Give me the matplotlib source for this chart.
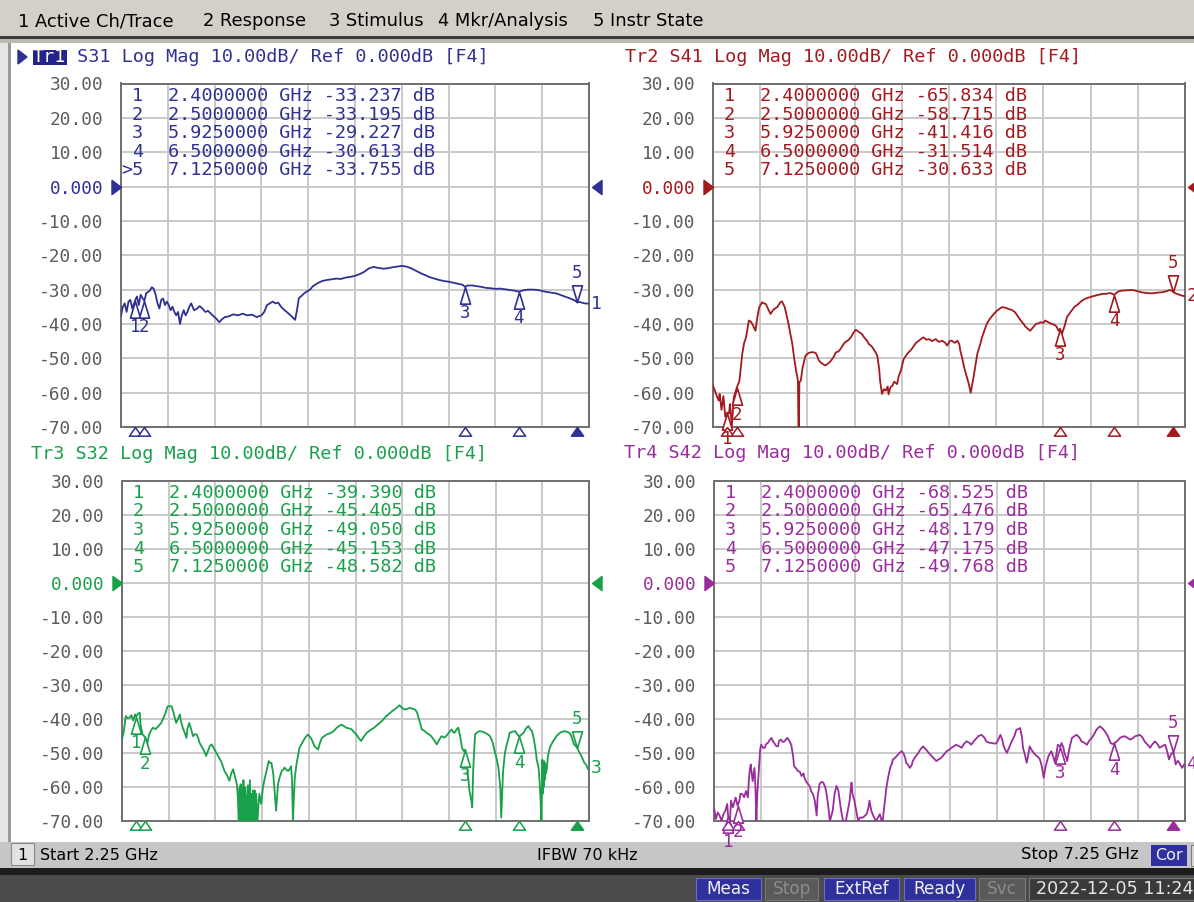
import matplotlib
matplotlib.use("Agg")
import matplotlib.pyplot as plt
from matplotlib.path import Path
from matplotlib.patches import Rectangle
from matplotlib.transforms import ScaledTranslation

W, H = 1194, 902
MONO = "DejaVu Sans Mono"
SANS = "DejaVu Sans"

# ---------------- data ----------------
f_start, f_stop = 2.25, 7.25
db_top, db_bot = 30, -70
marker_f = [2.4, 2.5, 5.925, 6.5, 7.125]

s31_f = [2.25, 2.27, 2.29, 2.31, 2.33, 2.35, 2.37, 2.39, 2.40, 2.42, 2.44, 2.46, 2.48, 2.50, 2.52,
         2.54, 2.56, 2.58, 2.60, 2.62, 2.64, 2.66, 2.68, 2.70, 2.72, 2.74, 2.76, 2.78, 2.80, 2.82,
         2.84, 2.86, 2.88, 2.90, 2.92, 2.94, 2.96, 2.98, 3.00, 3.03, 3.06, 3.09, 3.12, 3.15, 3.18,
         3.21, 3.24, 3.27, 3.30, 3.33, 3.36, 3.40, 3.45, 3.50, 3.55, 3.60, 3.65, 3.70, 3.75, 3.78,
         3.81, 3.84, 3.87, 3.90, 3.93, 3.96, 3.99, 4.02, 4.05, 4.08, 4.11, 4.13, 4.15, 4.18, 4.21,
         4.24, 4.27, 4.30, 4.33, 4.36, 4.40, 4.45, 4.50, 4.55, 4.60, 4.65, 4.70, 4.75, 4.80, 4.85,
         4.90, 4.95, 5.00, 5.05, 5.10, 5.15, 5.20, 5.25, 5.30, 5.35, 5.40, 5.45, 5.50, 5.55, 5.60,
         5.65, 5.70, 5.75, 5.80, 5.85, 5.90, 5.925, 5.95, 6.00, 6.05, 6.10, 6.15, 6.20, 6.25, 6.30,
         6.35, 6.40, 6.45, 6.50, 6.55, 6.60, 6.65, 6.70, 6.75, 6.80, 6.85, 6.90, 6.95, 7.00, 7.05,
         7.10, 7.125, 7.15, 7.20, 7.25]
s31_db = [-37.5, -35, -34, -36.5, -33.5, -33, -35.5, -34, -33.2, -32, -34.5, -31.5, -32.5, -33.2, -31,
          -30.7, -30.2, -29.3, -29.8, -31.5, -34, -35.5, -33, -32.6, -34.5, -33.5, -34.5, -36, -35, -36.5,
          -37.5, -36.5, -40, -37.5, -36, -37.5, -36.5, -35, -34, -36, -35.6, -34.8, -35.5, -36.5, -36.2,
          -37, -37.8, -38.5, -39.5, -38.6, -38, -37.8, -37.2, -37.5, -37, -37.5, -37.3, -38, -37.5, -36.5,
          -34.5, -34, -33.5, -34, -33.8, -35, -35.8, -36.5, -37.2, -38, -38.8, -36, -32.5, -31.8, -31,
          -30.5, -30, -29, -28.5, -28, -27.5, -27.2, -27, -26.8, -26.9, -26.5, -26.3, -26, -25.5, -24.8,
          -23.8, -23.4, -23.7, -23.9, -23.8, -23.5, -23.3, -23.1, -23.3, -23.8, -24.5, -25.2, -25.8, -26.4, -26.8,
          -27.2, -27.5, -27.7, -28, -28.3, -28.6, -29.2, -28.8, -28.8, -29, -29.2, -29.5, -29.6, -29.8, -29.7,
          -29.9, -30.1, -30.3, -30.6, -30.2, -30, -30, -30.1, -30.4, -30.7, -30.9, -31.1, -31.6, -32.1, -32.6,
          -33.2, -33.75, -33.6, -34, -34.1]
s31_mk = [-33.237, -33.195, -29.227, -30.613, -33.755]

s41_f = [2.25, 2.27, 2.29, 2.31, 2.32, 2.34, 2.36, 2.38, 2.40, 2.42, 2.43, 2.45, 2.47, 2.50, 2.53,
         2.56, 2.58, 2.60, 2.63, 2.65, 2.67, 2.70, 2.72, 2.74, 2.77, 2.79, 2.81, 2.84, 2.86, 2.88,
         2.90, 2.93, 2.96, 2.98, 3.01, 3.03, 3.05, 3.07, 3.09, 3.11, 3.13, 3.15, 3.155, 3.16, 3.165,
         3.18, 3.20, 3.23, 3.26, 3.28, 3.31, 3.34, 3.37, 3.39, 3.42, 3.44, 3.47, 3.50, 3.53, 3.55,
         3.58, 3.60, 3.63, 3.65, 3.68, 3.71, 3.74, 3.76, 3.78, 3.80, 3.83, 3.85, 3.88, 3.90, 3.93,
         3.95, 3.97, 3.99, 4.01, 4.02, 4.04, 4.06, 4.08, 4.10, 4.11, 4.13, 4.15, 4.17, 4.20, 4.22,
         4.24, 4.27, 4.30, 4.32, 4.35, 4.38, 4.40, 4.43, 4.46, 4.48, 4.51, 4.54, 4.57, 4.61, 4.64,
         4.68, 4.71, 4.73, 4.76, 4.78, 4.81, 4.84, 4.86, 4.87, 4.89, 4.91, 4.94, 4.96, 4.98, 5.00,
         5.01, 5.03, 5.05, 5.08, 5.10, 5.13, 5.15, 5.18, 5.21, 5.24, 5.26, 5.29, 5.31, 5.35, 5.38,
         5.42, 5.45, 5.48, 5.51, 5.54, 5.56, 5.59, 5.61, 5.64, 5.67, 5.70, 5.72, 5.75, 5.77, 5.80,
         5.84, 5.87, 5.89, 5.91, 5.925, 5.94, 5.97, 6.00, 6.03, 6.05, 6.08, 6.12, 6.15, 6.19, 6.23,
         6.27, 6.32, 6.37, 6.42, 6.46, 6.50, 6.54, 6.58, 6.63, 6.69, 6.74, 6.79, 6.85, 6.90, 6.95,
         7.00, 7.05, 7.09, 7.125, 7.15, 7.20, 7.25]
s41_db = [-58, -59.4, -61, -62.3, -60.4, -65, -61, -67, -65.8, -66, -63.3, -69.6, -61.4, -58.7, -56.5,
          -48.7, -45.5, -43.9, -39, -39.3, -40.2, -42, -38, -35.1, -33.7, -34, -34.2, -36, -37.1, -36.2,
          -35.6, -35.1, -33.8, -33.4, -35.1, -37.5, -40, -43, -45.8, -50, -53.6, -56.5, -70, -70, -57,
          -56.5, -52.6, -49.2, -48.5, -48.3, -48.2, -48.5, -50.5, -51.2, -51.8, -52.1, -51.5, -50.7, -49.5, -48.3,
          -48, -47.3, -46, -45.3, -44.8, -43.9, -42.5, -41.7, -42, -42.4, -43, -43.9, -44.8, -45.8, -46.5,
          -47.3, -48.2, -49.2, -53, -56.5, -60.4, -59, -59.4, -58.2, -60.5, -58.4, -58, -56.8, -57.5, -55,
          -53.6, -50.2, -49, -48.3, -47.5, -46.3, -45.5, -44.9, -44.2, -43.9, -44.6, -44.4, -45, -44.4, -45.2,
          -44.9, -45.5, -46.3, -44.9, -44.9, -45.5, -44.9, -46, -47.8, -50, -52.6, -55.5, -57.5, -60, -57,
          -55.5, -52, -48.7, -46, -43.9, -41.5, -40, -38.6, -37.6, -36.6, -36.1, -35.5, -35.1, -35.3, -35.6,
          -36, -36.6, -37.8, -39, -40, -40.8, -41.5, -42, -41, -40, -39.8, -39.5, -39.7, -39, -39.5,
          -40, -40.3, -40.8, -42, -41.4, -43.4, -41, -38, -36.8, -36.1, -35, -34.2, -33.4, -32.7, -32.3,
          -32, -31.6, -31.3, -31.2, -31, -31.5, -30.6, -30.3, -30.2, -30.1, -30.4, -30.8, -31, -31.1, -30.9,
          -30.8, -30.5, -30.1, -30.6, -31.1, -31.6, -32]
s41_mk = [-65.834, -58.715, -41.416, -31.514, -30.633]

s32_f = [2.25, 2.27, 2.29, 2.31, 2.33, 2.35, 2.37, 2.39, 2.40, 2.42, 2.44, 2.45, 2.47, 2.50, 2.52,
         2.54, 2.56, 2.58, 2.61, 2.64, 2.67, 2.69, 2.71, 2.73, 2.74, 2.78, 2.80, 2.81, 2.83, 2.85,
         2.87, 2.88, 2.90, 2.92, 2.94, 2.95, 2.97, 2.99, 3.01, 3.03, 3.05, 3.07, 3.08, 3.10, 3.12,
         3.14, 3.15, 3.17, 3.19, 3.21, 3.23, 3.26, 3.28, 3.31, 3.33, 3.35, 3.37, 3.40, 3.42, 3.44,
         3.46, 3.48, 3.49, 3.50, 3.505, 3.51, 3.515, 3.52, 3.525, 3.53, 3.535, 3.54, 3.545, 3.55, 3.555,
         3.56, 3.565, 3.57, 3.575, 3.58, 3.585, 3.59, 3.595, 3.60, 3.605, 3.61, 3.615, 3.62, 3.625, 3.63,
         3.635, 3.64, 3.645, 3.65, 3.655, 3.66, 3.665, 3.67, 3.675, 3.68, 3.685, 3.69, 3.695, 3.70, 3.72,
         3.74, 3.76, 3.78, 3.80, 3.82,
         3.84, 3.85, 3.87, 3.88, 3.90, 3.92, 3.94, 3.96, 3.98, 3.99, 4.01, 4.03, 4.05, 4.06, 4.07,
         4.08, 4.09, 4.10, 4.12, 4.14, 4.15, 4.17, 4.19, 4.21, 4.24, 4.26, 4.28, 4.31, 4.33, 4.35,
         4.37, 4.39, 4.42, 4.44, 4.47, 4.49, 4.52, 4.55, 4.58, 4.60, 4.63, 4.65, 4.68, 4.71, 4.73,
         4.76, 4.78, 4.81, 4.84, 4.87, 4.90, 4.92, 4.95, 4.97, 5.00, 5.03, 5.06, 5.08, 5.11, 5.14,
         5.17, 5.19, 5.22, 5.25, 5.28, 5.31, 5.33, 5.36, 5.39, 5.41, 5.42, 5.44, 5.46, 5.49, 5.51,
         5.54, 5.56, 5.59, 5.62, 5.65, 5.67, 5.70, 5.72, 5.75, 5.78, 5.80, 5.81, 5.83, 5.85, 5.87,
         5.89, 5.91, 5.925, 5.94, 5.95, 5.96, 5.97, 5.99, 6.00, 6.01, 6.03, 6.05, 6.08, 6.11, 6.14,
         6.17, 6.19, 6.22, 6.24, 6.26, 6.28, 6.30, 6.31, 6.32, 6.33, 6.35, 6.37, 6.39, 6.40, 6.43,
         6.46, 6.48, 6.50, 6.52, 6.55, 6.57, 6.60, 6.62, 6.64, 6.66, 6.68, 6.69, 6.71, 6.72, 6.73,
         6.74, 6.745, 6.75, 6.755, 6.76, 6.765, 6.77, 6.775, 6.78, 6.79, 6.80, 6.81, 6.83, 6.86, 6.89,
         6.91, 6.94, 6.96, 6.99, 7.01, 7.04, 7.06, 7.09, 7.11, 7.125, 7.15, 7.17, 7.20, 7.22, 7.24,
         7.25]
s32_db = [-46, -43.6, -39.2, -39.8, -39.7, -38.9, -40.5, -38.7, -39.4, -38.5, -38.2, -42, -44.6, -45.4, -47.5,
          -44.6, -43.5, -42.6, -43, -42.1, -41.2, -40, -38.7, -37, -36.3, -36.3, -38, -39.2, -41.2, -40,
          -38.7, -40.5, -42.6, -44, -45.6, -43, -41.2, -43, -45.1, -44.5, -44.6, -46, -47, -48, -49,
          -50, -50.9, -49.5, -48, -47.5, -48.5, -50, -51, -52.4, -54, -55.5, -56.3, -58.2, -56, -54.8,
          -57, -59.2, -63, -70, -62, -60, -70, -59.2, -66, -70, -61, -64, -70, -58, -67,
          -70, -60, -61, -70, -62.5, -68, -70, -60, -59.5, -70, -66, -62, -58, -70, -65,
          -70, -62, -70, -67, -61, -70, -63, -61, -70, -68, -62, -64, -70, -70, -62,
          -65, -60, -57.3, -55, -52.4,
          -53, -52.9, -56.3, -60, -67, -59.2, -57, -55.3, -54.8, -54.3, -55, -55.3, -54.5, -53.9, -58,
          -70, -63, -57.3, -53, -50, -48.5, -47.5, -46.5, -45.6, -44.6, -45.2, -46, -48, -48.5, -49,
          -47, -45.6, -45, -44.6, -44.3, -44.1, -43.5, -42.6, -42, -41.7, -42.2, -42.6, -42.8, -43.1, -43.8,
          -44.6, -45.5, -46.5, -45.2, -44.1, -43.5, -43.1, -42.6, -42.1, -41.4, -40.7, -39.8, -39.2, -38.5, -37.8,
          -37.2, -36.8, -36, -36.8, -37.3, -37, -36.8, -37, -37.3, -38.2, -39.2, -41, -43.1, -43.6, -44.1,
          -44.6, -45.1, -46.2, -47.5, -46, -45.1, -45.5, -45.1, -44, -43.1, -44, -44.1, -43.2, -42.6, -45,
          -48.5, -49.5, -49.05, -52, -55.3, -58, -61.2, -64, -66, -55, -44.6, -44, -43.6, -43.8, -44.1,
          -44.6, -45.1, -47, -49.5, -51.5, -54.3, -60, -69, -62, -55.3, -50, -47.5, -45.5, -44.1, -43.8,
          -43.6, -44.5, -45.15, -44.8, -44.1, -43, -42.1, -43, -43.6, -46, -49.5, -52, -54.3, -58, -63,
          -70, -60, -52, -62, -53, -60, -52.4, -58, -53, -56, -54.3, -51, -48.5, -46.8, -45.6,
          -44.8, -44.1, -43.8, -43.6, -43.8, -44.1, -45, -47.5, -48, -48.58, -50, -51, -52.9, -53.5, -54.8,
          -54.5]
s32_mk = [-39.390, -45.405, -49.050, -45.153, -48.582]

s42_f = [2.25, 2.27, 2.29, 2.31, 2.33, 2.35, 2.37, 2.39, 2.40, 2.42, 2.43, 2.45, 2.48, 2.50, 2.52,
         2.53, 2.55, 2.57, 2.59, 2.61, 2.62, 2.63, 2.64, 2.66, 2.68, 2.69, 2.70, 2.71, 2.73, 2.74,
         2.75, 2.77, 2.79, 2.80, 2.82, 2.84, 2.86, 2.88, 2.89, 2.91, 2.93, 2.94, 2.96, 2.98, 3.00,
         3.02, 3.03, 3.05, 3.07, 3.09, 3.10, 3.12, 3.14, 3.16, 3.18, 3.20, 3.21, 3.23, 3.25, 3.27,
         3.28, 3.30, 3.32, 3.34, 3.35, 3.37, 3.39, 3.41, 3.43, 3.44, 3.46, 3.48, 3.50, 3.51, 3.53,
         3.55, 3.57, 3.58, 3.60, 3.62, 3.65, 3.67, 3.69, 3.70, 3.71, 3.72, 3.74, 3.76, 3.78, 3.80,
         3.83, 3.85, 3.87, 3.89, 3.90, 3.92, 3.94, 3.97, 3.99, 4.01, 4.03, 4.04, 4.06, 4.08, 4.10,
         4.12, 4.14, 4.15, 4.17, 4.19, 4.22, 4.24, 4.26, 4.28, 4.29, 4.31, 4.33, 4.35, 4.36, 4.39,
         4.42, 4.44, 4.47, 4.50, 4.53, 4.56, 4.58, 4.61, 4.63, 4.66, 4.69, 4.72, 4.75, 4.77, 4.80,
         4.82, 4.85, 4.88, 4.90, 4.93, 4.96, 4.98, 5.01, 5.04, 5.06, 5.09, 5.12, 5.14, 5.17, 5.20,
         5.23, 5.25, 5.27, 5.29, 5.31, 5.32, 5.34, 5.36, 5.39, 5.41, 5.44, 5.46, 5.48, 5.50, 5.52,
         5.53, 5.55, 5.57, 5.59, 5.60, 5.63, 5.66, 5.69, 5.71, 5.73, 5.75, 5.77, 5.80, 5.83, 5.85,
         5.87, 5.89, 5.90, 5.925, 5.94, 5.96, 5.97, 5.99, 6.00, 6.02, 6.05, 6.08, 6.10, 6.13, 6.15,
         6.18, 6.21, 6.23, 6.26, 6.29, 6.31, 6.33, 6.35, 6.38, 6.40, 6.43, 6.46, 6.48, 6.50, 6.53,
         6.56, 6.58, 6.61, 6.64, 6.67, 6.70, 6.72, 6.75, 6.77, 6.80, 6.82, 6.85, 6.88, 6.90, 6.93,
         6.96, 6.98, 7.01, 7.04, 7.06, 7.08, 7.10, 7.125, 7.14, 7.15, 7.17, 7.18, 7.20, 7.22, 7.24,
         7.25]
s42_db = [-66, -69.4, -67.5, -68.4, -70, -68, -67, -65, -68.5, -70, -64, -66, -63.1, -65.5, -64,
          -62, -62.1, -63, -61.2, -63.1, -58, -55, -53.4, -58.3, -54.4, -60, -70, -62, -53.4, -49,
          -47.6, -48.5, -48.5, -47.5, -47.1, -46.3, -45.6, -46.8, -47.1, -48, -48.1, -46.5, -46.1, -46.8, -46.6,
          -45.8, -45.6, -46.5, -47.6, -51, -53.9, -54.5, -55.3, -55.5, -56.8, -56, -57.3, -58.5, -59.2, -60,
          -61.2, -62, -64, -68.4, -63, -59.2, -58.5, -58.7, -60, -61.2, -65, -70, -68, -67, -62,
          -59.7, -61, -63.1, -67, -70, -70, -67, -64, -61, -58.7, -62, -64, -67, -70, -69,
          -69, -68.5, -68, -66, -64, -67, -68.4, -70, -69, -68, -70, -70, -65, -60.2, -57,
          -54.4, -53, -51.9, -51.5, -50.9, -50, -49.5, -50, -51.5, -52.9, -53.5, -54.4, -53.5, -52.4, -51,
          -50, -49, -48.1, -49, -50, -50.9, -51.5, -52.4, -52, -51.5, -50.5, -49.5, -49, -48.5, -48,
          -47.6, -48, -48.5, -47.5, -46.6, -47, -47.6, -46.5, -45.6, -45, -44.7, -45.5, -46.6, -47, -47.1,
          -47.3, -47.1, -46, -44.7, -46, -47.6, -49, -50, -48, -46.6, -45, -43.2, -43, -42.7, -45.5,
          -48.5, -50.5, -52.9, -50, -48.1, -49.5, -50.5, -51.2, -51.9, -54, -57.3, -54, -51, -49.5, -51,
          -52.9, -49.5, -47.6, -48.18, -47.1, -48.5, -50, -51.5, -52.4, -49, -45.6, -45, -44.7, -45.5, -46.6,
          -47, -47.6, -46.5, -45.6, -44.3, -43.2, -42.6, -42.2, -43, -43.7, -45, -47.1, -47.4, -47.175, -46.5,
          -45.6, -45.3, -45.1, -45.6, -46.1, -45.6, -45.1, -44.9, -44.7, -45.5, -46.6, -47.5, -48.5, -47.6, -46.6,
          -47.5, -48.5, -48, -47.6, -49.5, -51.9, -50.5, -49.77, -51.5, -53.4, -52.4, -52.4, -53.5, -54.4, -53.4,
          -53.4]
s42_mk = [-68.525, -65.476, -48.179, -47.175, -49.768]

menu_items = ["1 Active Ch/Trace", "2 Response", "3 Stimulus", "4 Mkr/Analysis", "5 Instr State"]
menu_x = [18, 203, 329, 438, 593]

# ---------------- figure ----------------
fig = plt.figure(figsize=(W / 100, H / 100), dpi=100)
fig.patch.set_facecolor("white")

bg = fig.add_axes([0, 0, 1, 1])
bg.set_xlim(0, W)
bg.set_ylim(H, 0)
bg.axis("off")


def ptext(x, y, s, **kw):
    kw.setdefault("va", "center")
    return fig.text(x / W, 1 - y / H, s, **kw)


def box(x, y, w, h, fc, ec="none", lw=0):
    bg.add_patch(Rectangle((x, y), w, h, facecolor=fc, edgecolor=ec, lw=lw))


# menu bar
box(0, 0, W, 37, "#d4d0c8")
box(0, 36, W, 3, "#3c3c3c")
box(0, 39, W, 4, "#bdbab3")
for s, x in zip(menu_items, menu_x):
    ptext(x, 21, s, family=SANS, fontsize=12.9, color="black")
# left border of the display area
box(0, 43, 8, 800, "#e6e6e6")
box(8, 43, 3, 800, "#9a9a9a")

# status bar
box(0, 842, W, 26, "#c6c6c6")
box(11, 843, 23, 22, "#e2e2e2", "#8a8a8a", 0.8)
ptext(22.5, 855, "1", family=SANS, fontsize=11.5, ha="center")
ptext(40, 855, "Start 2.25 GHz", family=SANS, fontsize=11.5)
ptext(587, 855, "IFBW 70 kHz", family=SANS, fontsize=11.5, ha="center")
ptext(1139, 855, "Stop 7.25 GHz", family=SANS, fontsize=11.8, ha="right")
box(1151, 845, 36, 21, "#2f2f9e")
ptext(1169, 855.5, "Cor", family=SANS, fontsize=11.5, ha="center", color="#f0f0f0")
box(1191, 845, 6, 21, "#d8d8d8", "#808080", 0.8)
box(0, 868, W, 7, "#1c1c1c")
box(0, 875, W, 27, "#4b4b4b")
state_boxes = [("Meas", 696, 65, True), ("Stop", 765, 53, False), ("ExtRef", 824, 75, True),
               ("Ready", 904, 71, True), ("Svc", 979, 46, False)]
for s, x, w, on in state_boxes:
    if on:
        box(x, 878, w, 22, "#2f2f9e", "#6a6ac8", 0.8)
        ptext(x + w / 2, 889, s, family=SANS, fontsize=12.2, ha="center", color="#f0f0f0")
    else:
        box(x, 878, w, 22, "#5a5a5a", "#777777", 0.8)
        ptext(x + w / 2, 889, s, family=SANS, fontsize=12.2, ha="center", color="#8c8c8c")
box(1029, 878, 170, 22, "#3a3a3a", "#777777", 0.8)
ptext(1036, 889, "2022-12-05 11:24", family=SANS, fontsize=12.6, color="#e6e6e6")

# marker shapes (apex sits on the data point)
TRI_BELOW = Path([(0, 0), (-0.3, -1), (0.3, -1), (0, 0)],
                 [Path.MOVETO, Path.LINETO, Path.LINETO, Path.CLOSEPOLY])
TRI_ABOVE = Path([(0, 0), (-0.3, 1), (0.3, 1), (0, 0)],
                 [Path.MOVETO, Path.LINETO, Path.LINETO, Path.CLOSEPOLY])
TRI_EDGE = Path([(0, 0), (-0.7, -1), (0.7, -1), (0, 0)],
                [Path.MOVETO, Path.LINETO, Path.LINETO, Path.CLOSEPOLY])
REF_R = Path([(0, 0), (-1, 0.75), (-1, -0.75), (0, 0)],
             [Path.MOVETO, Path.LINETO, Path.LINETO, Path.CLOSEPOLY])
REF_L = Path([(0, 0), (1, 0.75), (1, -0.75), (0, 0)],
             [Path.MOVETO, Path.LINETO, Path.LINETO, Path.CLOSEPOLY])

panels = [
    # trace, param, freq, db, markers, colour, (x0, y0, x1, y1), title xy, active
    (1, "S31", s31_f, s31_db, s31_mk, "#2e3192", (121, 83.5, 589, 427), (33, 57), True),
    (2, "S41", s41_f, s41_db, s41_mk, "#a3191e", (713, 83.5, 1185, 427), (625, 57.5), False),
    (3, "S32", s32_f, s32_db, s32_mk, "#18a04a", (122, 480.5, 589, 821), (31, 454), False),
    (4, "S42", s42_f, s42_db, s42_mk, "#9a2d9c", (714, 480.5, 1185, 821), (624, 452.5), False),
]

yt = list(range(db_bot, db_top + 1, 10))
ylab = ["0.000" if v == 0 else "%.2f" % v for v in yt]
xt = [f_start + 0.5 * k for k in range(11)]
CHAR = 0.602 * 13.3 * 100 / 72   # advance of one mono glyph in pixels

for n, par, fr, db, mk, col, (x0, y0, x1, y1), (tx, ty), active in panels:
    ax = fig.add_axes([x0 / W, 1 - y1 / H, (x1 - x0) / W, (y1 - y0) / H])
    ax.set_xlim(f_start, f_stop)
    ax.set_ylim(db_bot, db_top)
    ax.set_xticks(xt)
    ax.set_yticks(yt)
    ax.set_yticklabels(ylab)
    ax.tick_params(axis="x", length=0, labelbottom=False)
    ax.tick_params(axis="y", length=0, pad=12.6, labelsize=12.9, labelcolor="#5c5c5c")
    for lab, v in zip(ax.get_yticklabels(), yt):
        lab.set_fontfamily(MONO)
        if v == 0:
            lab.set_color(col)
    ax.grid(True, color="#c9c9c9", lw=1.4)
    ax.set_axisbelow(True)
    for sp in ax.spines.values():
        sp.set_color("#6f6f6f")
        sp.set_linewidth(1.4)

    ax.plot(fr, db, color=col, lw=1.3, zorder=3)

    # reference level arrows
    ax.plot([f_start], [0], ls="none", marker=REF_R, ms=13.7, color=col, clip_on=False, zorder=5)
    shift = ScaledTranslation(3 / 100, 0, fig.dpi_scale_trans)
    ax.plot([f_stop], [0], ls="none", marker=REF_L, ms=13.7, color=col, clip_on=False, zorder=5,
            transform=ax.transData + shift)

    # markers on the trace
    ax.plot(marker_f[:4], mk[:4], ls="none", marker=TRI_BELOW, ms=24, mfc="white", mec=col,
            mew=1.2, clip_on=False, zorder=4)
    ax.plot(marker_f[4:], mk[4:], ls="none", marker=TRI_ABOVE, ms=24, mfc="white", mec=col,
            mew=1.2, clip_on=False, zorder=4)
    for i, (mf, mv) in enumerate(zip(marker_f, mk)):
        dy = 21 if i == 4 else -19
        ax.annotate(str(i + 1), (mf, mv), xytext=(0, dy), textcoords="offset points",
                    ha="center", va="center", color=col, family=MONO, fontsize=12.5,
                    annotation_clip=False, zorder=6)

    # marker ticks under the grid
    ax.plot(marker_f[:4], [db_bot] * 4, ls="none", marker=TRI_EDGE, ms=12.5, mfc="white",
            mec=col, mew=1.1, clip_on=False, zorder=5)
    ax.plot(marker_f[4:], [db_bot], ls="none", marker=TRI_EDGE, ms=12.5, mfc=col,
            mec=col, mew=1.1, clip_on=False, zorder=5)

    # trace number at the end of the trace
    ax.annotate(str(n), (fr[-1], db[-1]), xytext=(1, 0), textcoords="offset points",
                ha="left", va="center", color=col, family=MONO, fontsize=13,
                annotation_clip=False, zorder=6)

    # title line
    rest = "Tr%d %s Log Mag 10.00dB/ Ref 0.000dB [F4]" % (n, par)
    if active:
        box(tx - 0.5, ty - 7.5, 3 * CHAR + 1, 15, "#23238c")
        bg.add_patch(plt.Polygon([(18, ty - 7), (27, ty), (18, ty + 7)], color=col))
        ptext(tx, ty, rest[:3], family=MONO, fontsize=13.3, color="white")
        ptext(tx + 3 * CHAR, ty, rest[3:], family=MONO, fontsize=13.3, color=col)
    else:
        ptext(tx, ty, rest, family=MONO, fontsize=13.3, color=col)

    # marker readout table
    for i, (mf, mv) in enumerate(zip(marker_f, mk)):
        yy = y0 + 12.4 + 18.6 * i
        num = (">" if (active and i == 4) else "") + str(i + 1)
        ptext(x0 + 22, yy, num, family=MONO, fontsize=13.3, color=col, ha="right")
        ptext(x0 + 47, yy, "%.7f GHz %.3f dB" % (mf, mv), family=MONO, fontsize=13.3, color=col)

fig.savefig("out.png", dpi=100)
